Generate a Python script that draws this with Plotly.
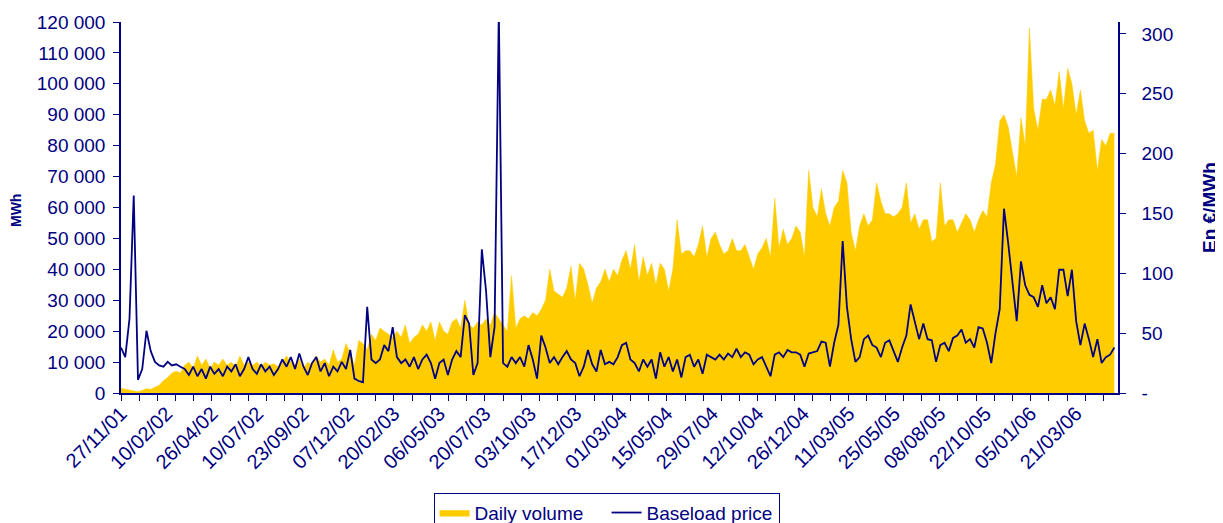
import plotly.graph_objects as go

# ---------------- data ----------------
# Weekly readings, first week starting 27/11/2001
volume_k_mwh = [
    1.5, 1.2, 1.0, 0.7, 0.4, 0.8, 1.4, 1.2, 1.8, 2.5, 4, 5, 6.5, 7, 6.5, 9, 10, 8, 12, 9,
    11, 8, 10, 9, 11, 9, 10, 8.5, 12, 9, 10, 9, 10, 8.5, 10, 9, 9.5, 8.5, 10, 12,
    10, 9, 11, 8, 10, 9, 12, 10, 11, 9, 14, 10, 11, 16, 13, 9, 17, 16, 14, 19,
    17, 21, 20, 19, 18, 20, 18, 22, 16, 18, 19, 22, 20, 23, 17, 23, 20, 19, 23, 24,
    21, 30, 22, 21, 23, 22, 24, 22, 26, 24, 22, 20, 38, 21, 24, 25, 24, 26, 25, 27,
    30, 40, 33, 32, 31, 34, 41, 30, 42, 40, 35, 29, 34, 36, 40, 36, 40, 38, 43,
    46, 40, 48, 36, 44, 38, 42, 35, 42, 40, 33, 40, 56, 45, 46, 46, 44, 48, 54, 44,
    50, 52, 48, 45, 46, 50, 46, 46, 48, 44, 40, 45, 47, 50, 44, 63, 47, 53, 48, 50,
    54, 52, 44, 72, 60, 57, 66, 58, 54, 60, 62, 72, 68, 52, 46, 54, 58, 54, 56, 68,
    62, 58, 58, 57, 58, 60, 68, 55, 58, 53, 56, 56, 49, 50, 68, 54, 56, 56, 52, 55,
    58, 56, 52, 56, 59, 57, 68, 74, 88, 90, 86, 78, 70, 89, 80, 118, 92, 85, 95, 95,
    98, 93, 104, 92, 105, 100, 90, 98, 88, 84, 85, 72, 82, 80, 84, 84,
]
baseload_price = [
    38, 30, 62, 165, 11, 20, 52, 35, 26, 23, 22, 26, 23, 24, 22, 20, 15, 22, 14, 20,
    12, 22, 16, 20, 14, 22, 18, 24, 14, 20, 30, 20, 16, 24, 18, 22, 15, 20, 28, 22,
    30, 20, 33, 22, 15, 25, 30, 18, 25, 14, 22, 18, 26, 20, 36, 12, 10, 9, 72, 28,
    25, 28, 40, 35, 55, 30, 25, 28, 22, 30, 20, 28, 32, 25, 12, 25, 28, 15, 28, 35,
    30, 65, 58, 15, 25, 120, 85, 30, 55, 320, 25, 22, 30, 25, 30, 22, 40, 28, 12, 48,
    38, 25, 30, 24, 30, 35, 28, 25, 14, 22, 36, 24, 18, 36, 24, 26, 24, 30, 40,
    42, 28, 25, 18, 28, 22, 28, 12, 34, 22, 30, 18, 28, 13, 30, 32, 22, 28, 16, 32,
    30, 28, 32, 28, 33, 30, 37, 30, 34, 32, 24, 28, 30, 22, 14, 32, 34, 30, 36, 34,
    34, 32, 22, 33, 34, 35, 43, 42, 22, 42, 57, 127, 72, 45, 26, 30, 45, 48, 40, 38,
    30, 42, 44, 35, 26, 38, 48, 74, 60, 45, 58, 45, 44, 26, 40, 42, 35, 46, 48, 53,
    42, 45, 38, 55, 54, 42, 25, 50, 70, 154, 125, 90, 60, 110, 90, 82, 80, 72, 90, 75,
    80, 70, 103, 103, 81, 103, 60, 40, 58, 45, 30, 45, 25, 30, 32, 38,
]
date_labels = [
    "27/11/01", "10/02/02", "26/04/02", "10/07/02", "23/09/02", "07/12/02",
    "20/02/03", "06/05/03", "20/07/03", "03/10/03", "17/12/03", "01/03/04",
    "15/05/04", "29/07/04", "12/10/04", "26/12/04", "11/03/05", "25/05/05",
    "08/08/05", "22/10/05", "05/01/06", "21/03/06",
]
left_ticks = [0, 10000, 20000, 30000, 40000, 50000, 60000, 70000, 80000, 90000,
              100000, 110000, 120000]
right_ticks = [0, 50, 100, 150, 200, 250, 300]
right_tick_text = ["-", "50", "100", "150", "200", "250", "300"]

# ---------------- derived positions (day offsets) ----------------
days = [7 * i for i in range(len(volume_k_mwh))]
volume = [v * 1000 for v in volume_k_mwh]
label_days = [75 * i for i in range(len(date_labels))]
mark_days = [30 * i for i in range(55)]
X_MAX = 1644

NAVY = "#000080"
YELLOW = "#FFCC00"
FONT = "Liberation Sans, Arial, sans-serif"

fig = go.Figure()
fig.add_trace(go.Scatter(
    x=days, y=volume, name="Daily volume", mode="lines",
    line=dict(color=YELLOW, width=0.5), fill="tozeroy", fillcolor=YELLOW,
))
fig.add_trace(go.Scatter(
    x=days, y=baseload_price, name="Baseload price", mode="lines",
    yaxis="y2", line=dict(color=NAVY, width=1.8),
))
# helper trace so the label axis is drawn
fig.add_trace(go.Scatter(
    x=[0], y=[0], xaxis="x2", mode="markers", marker=dict(opacity=0),
    showlegend=False, hoverinfo="skip",
))

fig.update_layout(
    width=1223, height=523,
    margin=dict(l=113, r=113, t=14, b=138, pad=0, autoexpand=False),
    paper_bgcolor="white", plot_bgcolor="white",
    font=dict(family=FONT, size=19, color=NAVY),
    separators=", ",
    showlegend=True,
    xaxis=dict(
        range=[0, X_MAX], tickmode="array", tickvals=mark_days,
        showticklabels=False, ticks="outside", ticklen=6, tickwidth=1,
        tickcolor=NAVY, showline=True, linecolor=NAVY, linewidth=1.5,
        showgrid=False, zeroline=False, automargin=False,
    ),
    xaxis2=dict(
        overlaying="x", anchor="y", side="bottom", range=[0, X_MAX],
        tickmode="array", tickvals=label_days, ticktext=date_labels,
        tickangle=-45, ticks="", showline=False, showgrid=False,
        zeroline=False, tickfont=dict(size=20, color=NAVY), automargin=False,
        ticklabelstandoff=4,
    ),
    yaxis=dict(
        range=[0, 120000], tickmode="array", tickvals=left_ticks,
        tickformat=",d", ticks="outside", ticklen=6, tickcolor=NAVY,
        showline=True, linecolor=NAVY, linewidth=1.5, showgrid=False,
        zeroline=False, ticklabelstandoff=4, automargin=False,
    ),
    yaxis2=dict(
        overlaying="y", side="right", anchor="x", range=[0, 310],
        tickmode="array", tickvals=right_ticks, ticktext=right_tick_text,
        ticks="outside", ticklen=6, tickcolor=NAVY, showline=True,
        linecolor=NAVY, linewidth=1.5, showgrid=False, zeroline=False,
        ticklabelstandoff=12, automargin=False,
    ),
    legend=dict(
        orientation="h", x=0.3135, y=-0.2687, xanchor="left", yanchor="top",
        bordercolor=NAVY, borderwidth=1, font=dict(size=19, color=NAVY),
        bgcolor="white", entrywidth=127, entrywidthmode="pixels",
    ),
    annotations=[
        dict(text="<b>MWh</b>", xref="paper", yref="paper", x=-0.1053, y=0.4906,
             xanchor="center", yanchor="middle",
             textangle=-90, showarrow=False, font=dict(size=14, color=NAVY)),
        dict(text="<b>En €/MWh</b>", xref="paper", yref="paper", x=1.0923, y=0.4987,
             xanchor="center", yanchor="middle",
             textangle=-90, showarrow=False, font=dict(size=19, color=NAVY)),
    ],
)

fig.write_html("out.html")
